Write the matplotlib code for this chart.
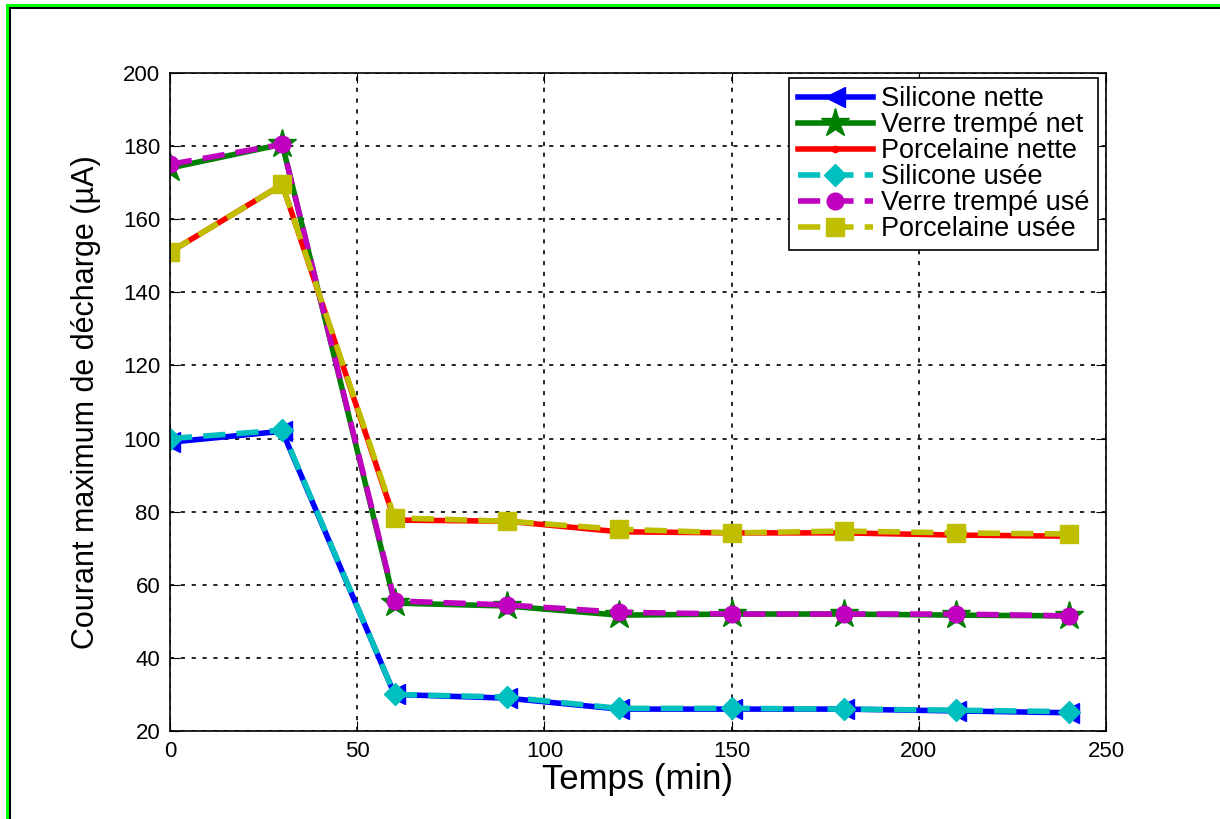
import matplotlib
matplotlib.use('Agg')
import matplotlib.pyplot as plt
from matplotlib.patches import Rectangle

plt.rcParams['font.family'] = ['Liberation Sans', 'DejaVu Sans']

temps = [0, 30, 60, 90, 120, 150, 180, 210, 240]
silicone_nette = [99, 102, 30, 29, 26, 26, 26, 25.5, 25]
verre_net = [174, 180.5, 55, 54.2, 51.7, 52, 52, 51.7, 51.5]
porcelaine_nette = [151, 169.5, 77.7, 77.4, 74.5, 74.2, 74.2, 73.6, 73.3]
silicone_usee = [100, 102.3, 30, 29.3, 26.2, 26.2, 26, 25.7, 25.3]
verre_use = [175, 180.5, 55.6, 54.5, 52.5, 52, 52, 52, 51.5]
porcelaine_usee = [151, 169.5, 78.3, 77.4, 75.2, 74.2, 74.7, 74.2, 73.9]

fig = plt.figure(figsize=(12.2, 8.19), dpi=100)
ax = fig.add_axes([0.1393, 0.1074, 0.7673, 0.8035])

ax.plot(temps, silicone_nette, '-', color='#0000ff', lw=4, marker='<', ms=14, label='Silicone nette')
ax.plot(temps, verre_net, '-', color='#008000', lw=4, marker='*', ms=21, label='Verre trempé net')
ax.plot(temps, porcelaine_nette, '-', color='#ff0000', lw=4, marker='.', ms=9, label='Porcelaine nette')
ax.plot(temps, silicone_usee, '--', color='#00bfbf', lw=4, marker='D', ms=11, label='Silicone usée', dashes=(4, 2))
ax.plot(temps, verre_use, '--', color='#bf00bf', lw=4, marker='o', ms=12, label='Verre trempé usé', dashes=(4, 2))
ax.plot(temps, porcelaine_usee, '--', color='#bfbf00', lw=4, marker='s', ms=13, label='Porcelaine usée', dashes=(4, 2))

ax.set_xlim(0, 250)
ax.set_ylim(20, 200)
ax.set_xticks(range(0, 251, 50))
ax.set_yticks(range(20, 201, 20))
ax.tick_params(direction='in', length=7, labelsize=16, top=True, right=True, pad=7)
ax.grid(True, color='black', linestyle=(0, (2.5, 4)), lw=1.2)
for s in ax.spines.values():
    s.set_linewidth(1.2)

ax.set_xlabel('Temps (min)', fontsize=25, labelpad=1)
ax.set_ylabel('Courant maximum de décharge (µA)', fontsize=22, labelpad=16)

leg = ax.legend(loc='upper right', bbox_to_anchor=(0.9915, 0.9924), fontsize=19.5,
                handlelength=2.8, framealpha=1, fancybox=False, edgecolor='black',
                borderpad=0.3, labelspacing=0.0, handletextpad=0.3, borderaxespad=0)
leg.get_frame().set_linewidth(1.2)

# green frame on top and left edges
W, H = 1220, 819
fig.add_artist(Rectangle((6 / W, 0), 3 / W, 1 - 4 / H, transform=fig.transFigure, color='#00ff00', lw=0))
fig.add_artist(Rectangle((9 / W, 0), 2 / W, 1 - 7 / H, transform=fig.transFigure, color='black', lw=0))
fig.add_artist(Rectangle((6 / W, 1 - 7 / H), 1 - 6 / W, 3 / H, transform=fig.transFigure, color='#00ff00', lw=0))
fig.add_artist(Rectangle((9 / W, 1 - 9 / H), 1 - 9 / W, 2 / H, transform=fig.transFigure, color='black', lw=0))

fig.savefig('out.png', dpi=100)
